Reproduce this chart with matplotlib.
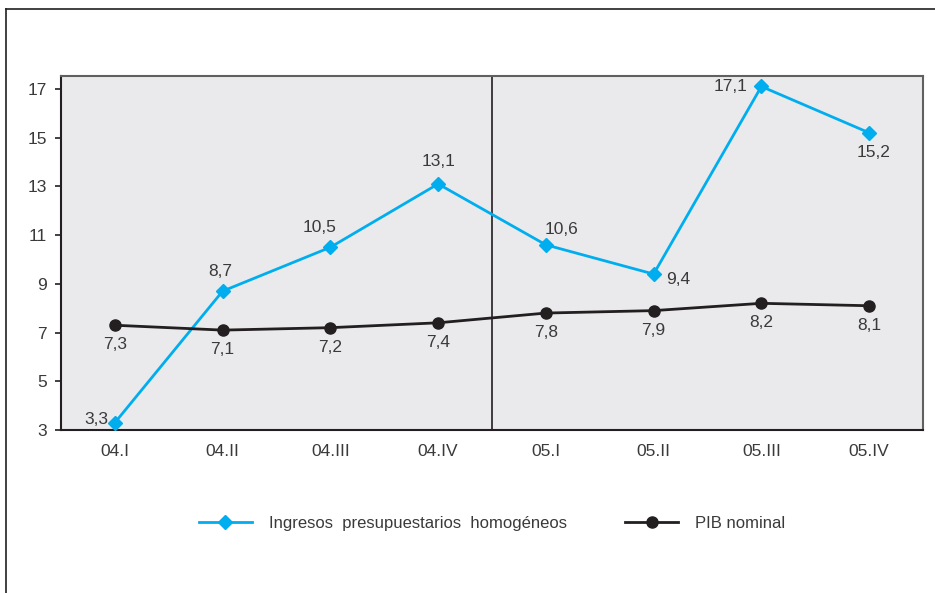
import matplotlib.pyplot as plt
from matplotlib.lines import Line2D

quarters = ['04.I', '04.II', '04.III', '04.IV', '05.I', '05.II', '05.III', '05.IV']
ingresos = [3.3, 8.7, 10.5, 13.1, 10.6, 9.4, 17.1, 15.2]
pib = [7.3, 7.1, 7.2, 7.4, 7.8, 7.9, 8.2, 8.1]
yticks = [3, 5, 7, 9, 11, 13, 15, 17]

# label offsets (points) for the blue series
ing_offsets = [(-13, 2), (-2, 14), (-8, 14), (0, 16), (11, 11), (18, -4), (-22, 0), (3, -14)]

BLUE = '#00AEEF'
BLACK = '#231F20'
TEXT = '#3a3a3a'
FS = 12.5

plt.rcParams['font.family'] = ['Liberation Sans', 'DejaVu Sans']

fig = plt.figure(figsize=(9.35, 5.93), dpi=100)
ax = fig.add_axes([61 / 935, 1 - 430 / 593, (923 - 61) / 935, (430 - 76) / 593])
ax.set_facecolor('#EAEAEC')

x = list(range(len(quarters)))
ax.plot(x, ingresos, color=BLUE, lw=2, marker='D', ms=7, zorder=3,
        label='Ingresos  presupuestarios  homogéneos')
ax.plot(x, pib, color=BLACK, lw=2, marker='o', ms=8, zorder=3,
        label='PIB nominal')

for i, v in enumerate(ingresos):
    dx, dy = ing_offsets[i]
    ax.annotate(f'{v:.1f}'.replace('.', ','), (i, v), xytext=(dx, dy),
                textcoords='offset points', ha='center', va='center',
                fontsize=FS, color=TEXT)
for i, v in enumerate(pib):
    ax.annotate(f'{v:.1f}'.replace('.', ','), (i, v), xytext=(0, -14),
                textcoords='offset points', ha='center', va='center',
                fontsize=FS, color=TEXT)

ax.axvline(3.5, color=BLACK, lw=1.2, zorder=2)

ax.set_xlim(-0.5, 7.5)
ax.set_ylim(3, 17.53)
ax.set_xticks(x)
ax.set_xticklabels(quarters)
ax.set_yticks(yticks)
ax.tick_params(axis='x', length=0, pad=10, labelsize=FS, labelcolor=TEXT)
ax.tick_params(axis='y', length=4, width=1.2, color=BLACK, pad=6,
               labelsize=FS, labelcolor=TEXT)
for side in ['left', 'bottom']:
    ax.spines[side].set_color(BLACK)
    ax.spines[side].set_linewidth(1.5)
for side in ['top', 'right']:
    ax.spines[side].set_color('#606060')
    ax.spines[side].set_linewidth(1.5)

ax.legend(loc='center', bbox_to_anchor=(0.5, -0.265), ncol=2, frameon=False,
          fontsize=12, labelcolor=TEXT, handlelength=3.2, columnspacing=3.5,
          handletextpad=1.0)

# outer frame
fig.add_artist(Line2D([6 / 935, 6 / 935], [0, 1 - 9 / 593],
                      transform=fig.transFigure, color=BLACK, lw=1.2))
fig.add_artist(Line2D([6 / 935, 1], [1 - 9 / 593, 1 - 9 / 593],
                      transform=fig.transFigure, color=BLACK, lw=1.2))

fig.savefig('out.png', dpi=100)
